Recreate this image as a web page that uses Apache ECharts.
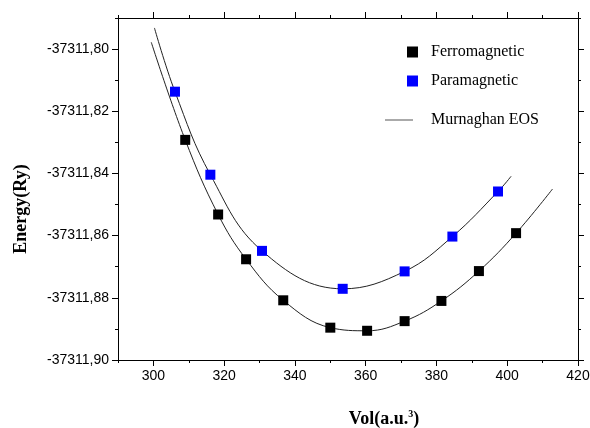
<!DOCTYPE html>
<html lang="en">
<head>
    <meta charset="UTF-8">
    <title>Energy vs Volume</title>
    <script src="https://cdn.jsdelivr.net/npm/echarts@6/dist/echarts.min.js"></script>
    <style>
        html, body { margin: 0; padding: 0; background: #fff; }
    </style>
</head>
<body>
<div id="main" style="width: 590px;height:428px;"></div>
<script>
    // data
    var ferroVol = [309.0, 318.3, 326.2, 336.7, 350.0, 360.4, 371.0, 381.4, 392.0, 402.5];
    var ferroE = [-37311.8292, -37311.8532, -37311.8676, -37311.8808, -37311.8896,
        -37311.8906, -37311.8875, -37311.8810, -37311.8714, -37311.8592];
    var paraVol = [306.1, 316.1, 330.7, 353.5, 371.0, 384.5, 397.4];
    var paraE = [-37311.8137, -37311.8404, -37311.8649, -37311.8771, -37311.8715,
        -37311.8603, -37311.8458];

    // fitted Murnaghan curves
    var fitFerroVol = [299.4, 309.0, 318.3, 326.2, 336.7, 350.0, 360.4, 371.0, 381.4, 392.0, 402.5, 412.8];
    var fitFerroE = [-37311.7978, -37311.8292, -37311.8532, -37311.8676, -37311.8808, -37311.8896,
        -37311.8906, -37311.8875, -37311.8810, -37311.8714, -37311.8592, -37311.8450];
    var fitParaVol = [300.3, 306.1, 316.1, 330.7, 353.5, 371.0, 384.5, 397.4, 401.1];
    var fitParaE = [-37311.7932, -37311.8137, -37311.8404, -37311.8649, -37311.8771,
        -37311.8715, -37311.8603, -37311.8458, -37311.8409];

    // tick labels
    var xTicks = ['290', '300', '310', '320', '330', '340', '350', '360', '370', '380', '390', '400', '410', '420'];
    var yTicks = ['-37311,90', '-37311,89', '-37311,88', '-37311,87', '-37311,86', '-37311,85',
        '-37311,84', '-37311,83', '-37311,82', '-37311,81', '-37311,80', '-37311,79'];

    function zip(a, b) {
        return a.map(function (v, i) { return [v, b[i]]; });
    }

    var serif = '"Liberation Serif", "Times New Roman", serif';
    var sans = '"Liberation Sans", Arial, sans-serif';
    var xMajor = function (i) { return i % 2 === 1; };
    var yMajor = function (i) { return i % 2 === 0 && i < 11; };

    function valueX(pos) {
        return {
            type: 'value', position: pos, min: 290, max: 420, interval: 10,
            axisLine: {onZero: false, lineStyle: {color: '#000', width: 1}},
            axisTick: {length: 3, lineStyle: {color: '#000'}},
            axisLabel: {show: false}, splitLine: {show: false}
        };
    }
    function catX(pos, withLabels) {
        return {
            type: 'category', position: pos, data: xTicks, boundaryGap: false,
            axisLine: {show: false},
            axisTick: {length: 6, interval: function (i) { return xMajor(i); }, lineStyle: {color: '#000'}},
            axisLabel: {show: withLabels, interval: function (i) { return xMajor(i); },
                color: '#000', fontSize: 14, fontFamily: sans, margin: 9},
            splitLine: {show: false}
        };
    }
    function valueY(pos) {
        return {
            type: 'value', position: pos, min: -37311.90, max: -37311.79, interval: 0.01,
            axisLine: {onZero: false, lineStyle: {color: '#000', width: 1}},
            axisTick: {length: 3, lineStyle: {color: '#000'}},
            axisLabel: {show: false}, splitLine: {show: false}, scale: true
        };
    }
    function catY(pos, withLabels) {
        return {
            type: 'category', position: pos, data: yTicks, boundaryGap: false,
            axisLine: {show: false},
            axisTick: {length: 6, interval: function (i) { return yMajor(i); }, lineStyle: {color: '#000'}},
            axisLabel: {show: withLabels, interval: function (i) { return yMajor(i); },
                color: '#000', fontSize: 14, fontFamily: sans, margin: 9},
            splitLine: {show: false}
        };
    }

    var xName = catX('bottom', true);
    xName.name = '{a|Vol(a.u.}{s|3}{a|)}';
    xName.nameLocation = 'middle';
    xName.nameGap = 49;
    xName.nameTextStyle = {
        padding: [0, 0, 0, 72],
        rich: {
            a: {fontFamily: serif, fontWeight: 'bold', fontSize: 18, color: '#000'},
            s: {fontFamily: serif, fontWeight: 'bold', fontSize: 10, color: '#000', verticalAlign: 'top', padding: [0, 0, 10, 0]}
        }
    };
    var yName = catY('left', true);
    yName.name = 'Energy(Ry)';
    yName.nameLocation = 'middle';
    yName.nameGap = 88;
    yName.nameTextStyle = {fontFamily: serif, fontWeight: 'bold', fontSize: 18, color: '#000', padding: [0, 40, 0, 0]};

    var myChart = echarts.init(document.getElementById('main'));
    var option = {
        animation: false,
        backgroundColor: '#fff',
        grid: {left: 118, right: 12, top: 18, bottom: 68, outerBoundsMode: 'none'},
        legend: [
            {
                data: ['Ferromagnetic', 'Paramagnetic'], orient: 'vertical', left: 402, top: 39,
                itemWidth: 11, itemHeight: 11, itemGap: 13, icon: 'rect', selectedMode: false,
                textStyle: {fontFamily: serif, fontSize: 16, color: '#000', padding: [0, 0, 0, 8]}
            },
            {
                data: [{name: 'Murnaghan EOS', icon: 'rect', itemStyle: {color: '#555'}}], left: 380, top: 107,
                itemWidth: 28, itemHeight: 1, selectedMode: false,
                lineStyle: {color: '#555', width: 1.5},
                textStyle: {fontFamily: serif, fontSize: 16, color: '#000', padding: [0, 0, 0, 13]}
            }
        ],
        xAxis: [valueX('bottom'), xName, valueX('top'), catX('top', false)],
        yAxis: [valueY('left'), yName, valueY('right'), catY('right', false)],
        series: [
            {
                name: 'Murnaghan EOS', type: 'line', data: zip(fitFerroVol, fitFerroE),
                smooth: 0.4, symbol: 'none', itemStyle: {color: '#555'},
                lineStyle: {color: '#222', width: 1}, z: 1
            },
            {
                name: 'Murnaghan EOS', type: 'line', data: zip(fitParaVol, fitParaE),
                smooth: 0.4, symbol: 'none', itemStyle: {color: '#555'},
                lineStyle: {color: '#222', width: 1}, z: 1
            },
            {
                name: 'Ferromagnetic', type: 'scatter', data: zip(ferroVol, ferroE),
                symbol: 'rect', symbolSize: 10, itemStyle: {color: '#000', opacity: 1}, z: 3
            },
            {
                name: 'Paramagnetic', type: 'scatter', data: zip(paraVol, paraE),
                symbol: 'rect', symbolSize: 10, itemStyle: {color: '#0000ff', opacity: 1}, z: 3
            }
        ]
    };
    myChart.setOption(option);
</script>
</body>
</html>
